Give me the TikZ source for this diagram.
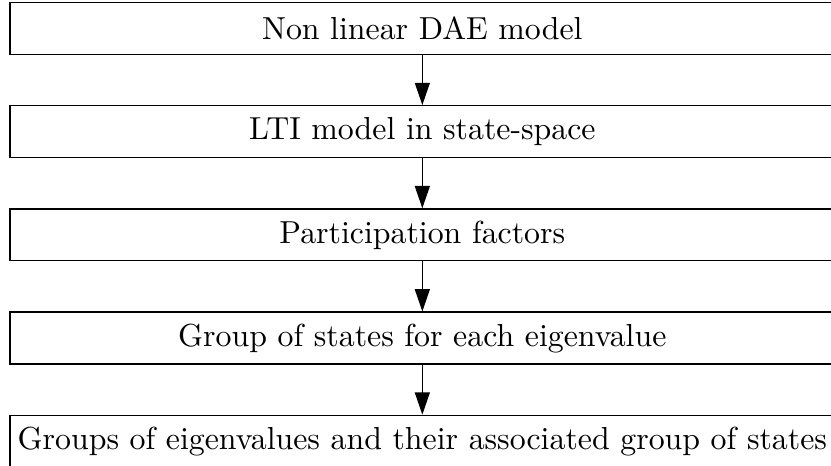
\documentclass[tikz,border=0pt]{standalone}
\usepackage{amsmath,amssymb}
\usepackage{tikz}
\usetikzlibrary{positioning}
\usetikzlibrary{arrows.meta}

\begin{document}
\begin{tikzpicture}[every node/.style={font=\normalsize},
    stage/.style={draw, minimum width=259pt, minimum height=16.3pt, inner sep=0pt},
    flow/.style={-{Triangle[length=7pt, width=4.7pt]}},
    node distance=15.7pt]
\useasboundingbox (-132.6pt,8.95pt) rectangle (128.3pt,-137.05pt);

    \node[stage] (dae) at (0,0) {Non linear DAE model};
    \node[stage, below=of dae] (lti) {LTI model in state-space};
    \node[stage, below=of lti] (pf) {Participation factors};
    \node[stage, below=of pf] (grp) {Group of states for each eigenvalue};
    \node[stage, below=of grp] (eig) {Groups of eigenvalues and their associated group of states};

    \draw[flow] (dae) -- (lti);
    \draw[flow] (lti) -- (pf);
    \draw[flow] (pf) -- (grp);
    \draw[flow] (grp) -- (eig);
\end{tikzpicture}
\end{document}
